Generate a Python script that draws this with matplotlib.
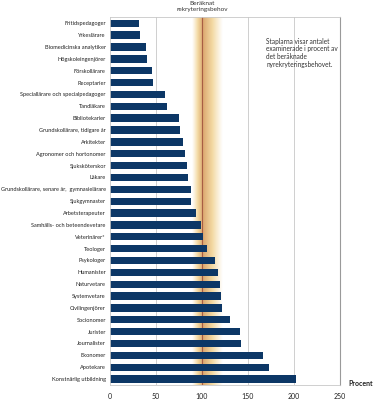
import numpy as np
import matplotlib.pyplot as plt
from matplotlib.colors import LinearSegmentedColormap

# Examinerade i procent av beräknat nyrekryteringsbehov
categories = [
    "Fritidspedagoger", "Yrkeslärare", "Biomedicinska analytiker", "Högskoleingenjörer",
    "Förskollärare", "Receptarier", "Speciallärare och specialpedagoger", "Tandläkare",
    "Bibliotekarier", "Grundskollärare, tidigare år", "Arkitekter", "Agronomer och hortonomer",
    "Sjuksköterskor", "Läkare", "Grundskollärare, senare år,  gymnasielärare", "Sjukgymnaster",
    "Arbetsterapeuter", "Samhälls- och beteendevetare", "Veterinärer*", "Teologer",
    "Psykologer", "Humanister", "Naturvetare", "Systemvetare", "Civilingenjörer",
    "Socionomer", "Jurister", "Journalister", "Ekonomer", "Apotekare", "Konstnärlig utbildning",
]
values = [
    32, 33, 39, 40.5, 46, 46.5, 60, 62, 75, 76.5, 79, 82, 84, 85, 88, 88,
    93.5, 99.5, 101, 106, 114.5, 118, 119.5, 120.5, 122, 130, 141.5, 143, 166, 173, 202,
]
xticks = [0, 50, 100, 150, 200, 250]

plt.rcParams["font.family"] = ["Liberation Sans Narrow", "Lato", "DejaVu Sans"]

fig = plt.figure(figsize=(3.78, 4.0), dpi=100)
ax = fig.add_axes([0.291, 0.0375, 0.608, 0.92])

y = np.arange(len(categories))

# shaded band around the estimated need (100 %)
prof = np.concatenate([np.linspace(0, 1, 60) ** 1.1, np.linspace(1, 0, 110) ** 1.1])
band_cmap = LinearSegmentedColormap.from_list("band", ["#ffffff", "#f3d9a2", "#dca870"])
ax.imshow(prof[np.newaxis, :], cmap=band_cmap, aspect="auto",
          extent=[89, 122, len(categories) - 0.5, -0.53], zorder=0)
ax.axvline(100, color="#a85d44", lw=0.8, zorder=1)

for xv in [50, 150, 200]:
    ax.axvline(xv, color="#cfcfcf", lw=0.7, zorder=0.5)

ax.barh(y, values, height=0.62, color="#0c3766", zorder=2)

ax.set_xlim(0, 250)
ax.set_ylim(len(categories) - 0.5, -0.53)
ax.set_yticks(y)
ax.set_yticklabels(categories, fontsize=4.1, color="#222222")
ax.set_xticks(xticks)
ax.set_xticklabels([str(t) for t in xticks], fontsize=5, color="#222222")
ax.tick_params(length=0, pad=3)
ax.tick_params(axis="x", pad=6)
for s in ["top", "bottom", "left"]:
    ax.spines[s].set_color("#c8c8c8")
    ax.spines[s].set_linewidth(0.6)
ax.spines["right"].set_color("#9a9a9a")
ax.spines["right"].set_linewidth(0.8)

fig.text(202 / 378, 1 - 1 / 400, "Beräknat\nrekryteringsbehov", ha="center", va="top",
         fontsize=4.6, linespacing=1.15, color="#333333")
ax.text(170, 1.2, "Staplarna visar antalet\nexaminerade i procent av\ndet beräknade\nnyrekryteringsbehovet.",
        ha="left", va="top", fontsize=4.7, linespacing=1.15, color="#333333")
fig.text(361 / 378, 1 - 384 / 400, "Procent", ha="center", va="center",
         fontsize=5, fontweight="bold", family="Lato", color="#222222")

fig.savefig("out.png", dpi=100)
